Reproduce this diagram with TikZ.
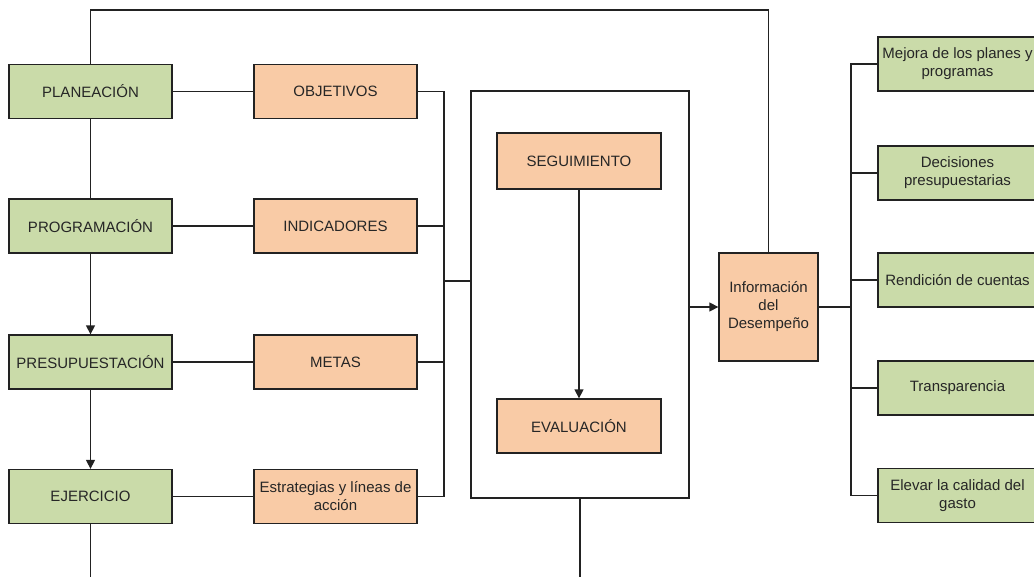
\documentclass[tikz,border=0pt]{standalone}
\usepackage{fontspec}
\setmainfont{Liberation Sans}
\usetikzlibrary{arrows.meta}
\definecolor{gfill}{HTML}{CADBA9}
\definecolor{ofill}{HTML}{F9CBA6}
\definecolor{ln}{HTML}{222222}
\definecolor{tx}{HTML}{262626}
\begin{document}
\begin{tikzpicture}[x=1pt,y=-1pt,
  box/.style={draw=ln, line width=1.3pt, minimum width=163pt, minimum height=54pt,
    inner sep=2pt, align=center, font=\fontsize{15}{18}\selectfont, text=tx},
  gbox/.style={box, fill=gfill},
  obox/.style={box, fill=ofill},
  rbox/.style={gbox, minimum width=159pt},
  conn/.style={draw=ln, line width=1.3pt},
  arr/.style={conn, -{Triangle[length=9pt,width=9pt]}}]
\useasboundingbox (0,0) rectangle (1034,576);
% left column
\node[gbox] (plan) at (90.5,91.5) {PLANEACIÓN};
\node[gbox] (prog) at (90.5,226) {PROGRAMACIÓN};
\node[gbox] (pres) at (90.5,362) {PRESUPUESTACIÓN};
\node[gbox] (ejer) at (90.5,496.5) {EJERCICIO};
% second column
\node[obox] (obj) at (335.5,91.5) {OBJETIVOS};
\node[obox] (ind) at (335.5,226) {INDICADORES};
\node[obox] (met) at (335.5,362) {METAS};
\node[obox] (estr) at (335.5,496.5) {Estrategias y líneas de\\acción};
% frame
\node[draw=ln, line width=1.2pt, minimum width=218pt, minimum height=407pt, inner sep=0pt] (frame) at (580,294.5) {};
\node[obox, minimum width=164pt, minimum height=56pt] (seg) at (579,161) {SEGUIMIENTO};
\node[obox, minimum width=164pt] (eval) at (579,426) {EVALUACIÓN};
% info
\node[obox, minimum width=99pt, minimum height=108pt] (info) at (768.5,307) {Información\\del\\Desempeño};
% right column
\node[rbox] (mej) at (957.5,64) {Mejora de los planes y\\programas};
\node[rbox] (dec) at (957.5,173) {Decisiones\\presupuestarias};
\node[rbox] (ren) at (957.5,280) {Rendición de cuentas};
\node[rbox] (tra) at (957.5,388) {Transparencia};
\node[rbox] (elev) at (957.5,495.5) {Elevar la calidad del\\gasto};
% coordinates
\coordinate (top) at (768.5,10);
\coordinate (bot) at (0,580);
\coordinate (lb1) at (444,91.5);
\coordinate (lb2) at (444,496.5);
\coordinate (lbm) at (444,281);
\coordinate (rb1) at (851,64);
\coordinate (rb2) at (851,495.5);
% left connectors
\draw[conn] (plan) -- (obj);
\draw[conn] (prog) -- (ind);
\draw[conn] (pres) -- (met);
\draw[conn] (ejer) -- (estr);
\draw[conn] (plan) -- (prog);
\draw[arr] (prog) -- (pres);
\draw[arr] (pres) -- (ejer);
\draw[conn] (ejer.south) -- (ejer.south |- bot);
% bracket
\draw[conn] (obj.east) -- (lb1) -- (lb2) -- (estr.east);
\draw[conn] (ind.east) -- (ind.east -| lb1);
\draw[conn] (met.east) -- (met.east -| lb1);
\draw[conn] (lbm) -- (lbm -| frame.west);
% frame inside
\draw[arr] (seg) -- (eval);
\draw[arr] (frame.east |- info) -- (info.west);
\draw[conn] (frame.south) -- (frame.south |- bot);
% feedback loop
\draw[conn] (info.north) -- (top) -| (plan.north);
% right bracket
\draw[conn] (info.east) -- (info.east -| rb1);
\draw[conn] (mej.west) -- (rb1) -- (rb2) -- (elev.west);
\draw[conn] (dec.west) -- (dec.west -| rb1);
\draw[conn] (ren.west) -- (ren.west -| rb1);
\draw[conn] (tra.west) -- (tra.west -| rb1);
\end{tikzpicture}
\end{document}
